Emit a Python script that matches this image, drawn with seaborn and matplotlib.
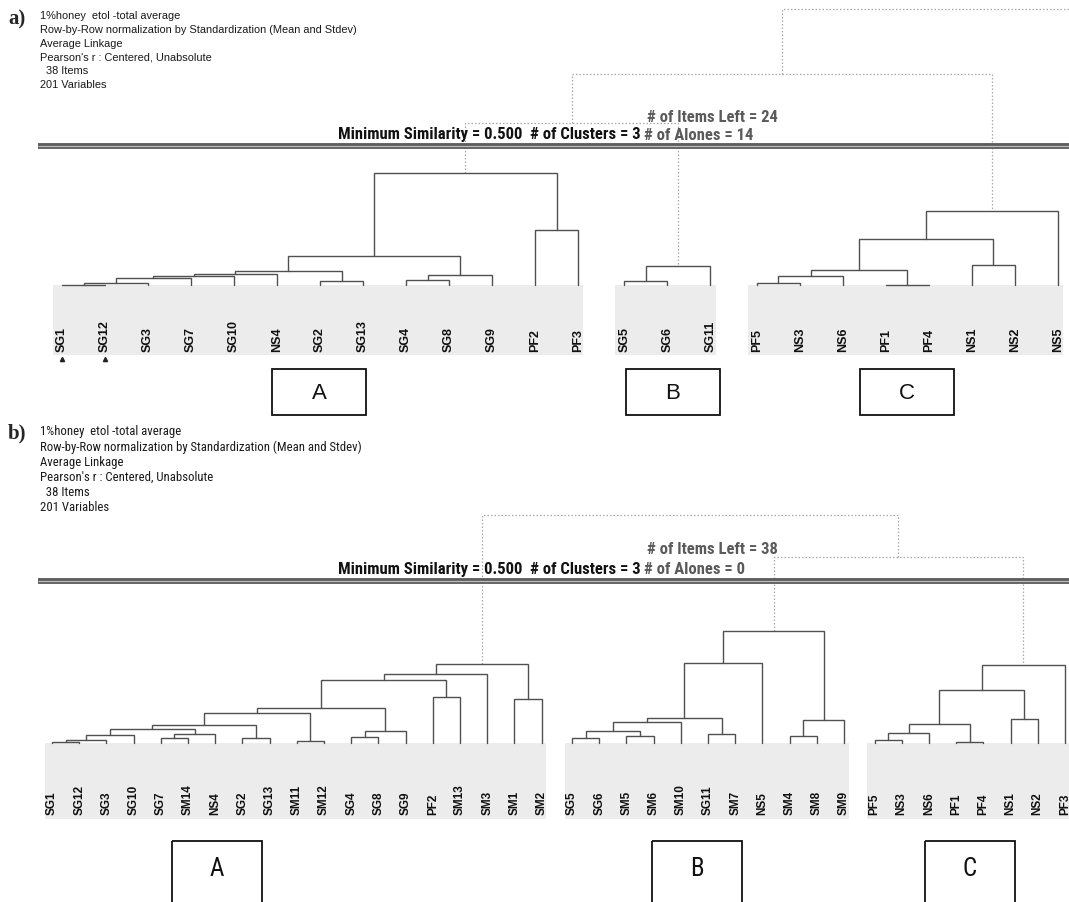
import numpy as np
import matplotlib
matplotlib.use("Agg")
import matplotlib.pyplot as plt
import matplotlib.transforms as mtransforms
from matplotlib.patches import Rectangle
from matplotlib.lines import Line2D
from matplotlib.text import Annotation
from matplotlib import font_manager
import seaborn as sns

sns.set_theme(style="white")
plt.rcParams['font.family'] = ['Liberation Sans', 'DejaVu Sans']

# ---------------------------------------------------------------- data
header_lines = [
    "1%honey  etol -total average",
    "Row-by-Row normalization by Standardization (Mean and Stdev)",
    "Average Linkage",
    "Pearson's r : Centered, Unabsolute",
    "  38 Items",
    "201 Variables",
]

# panel a) -- 24 items kept, three clusters
a_leaves_A = ["SG1", "SG12", "SG3", "SG7", "SG10", "NS4", "SG2", "SG13",
              "SG4", "SG8", "SG9", "PF2", "PF3"]
a_merges_A = [(0, 1, 0.3), (13, 2, 2.3), (14, 3, 6.7), (15, 4, 8.7),
              (16, 5, 11.3), (6, 7, 4.0), (17, 18, 13.7), (8, 9, 5.0),
              (20, 10, 10.3), (19, 21, 28.7), (11, 12, 55.3), (22, 23, 111.7)]
a_leaves_B = ["SG5", "SG6", "SG11"]
a_merges_B = [(0, 1, 3.7), (3, 2, 18.7)]
a_leaves_C = ["PF5", "NS3", "NS6", "PF1", "PF4", "NS1", "NS2", "NS5"]
a_merges_C = [(0, 1, 2.0), (8, 2, 8.7), (3, 4, 0.3), (9, 10, 15.3),
              (5, 6, 20.3), (11, 12, 46.0), (13, 7, 74.0)]
a_upper_merges = [(0, 1, 162.0), (3, 2, 211.0)]
a_outer_height = 276.0
a_marked = ["SG1", "SG12"]
a_items_left, a_alones = 24, 14

# panel b) -- all 38 items, three clusters
b_leaves_A = ["SG1", "SG12", "SG3", "SG10", "SG7", "SM14", "NS4", "SG2", "SG13",
              "SM11", "SM12", "SG4", "SG8", "SG9", "PF2", "SM13", "SM3", "SM1", "SM2"]
b_merges_A = [(0, 1, 1.0), (19, 2, 2.7), (20, 3, 8.3), (4, 5, 5.0), (22, 6, 9.0),
              (21, 23, 13.7), (7, 8, 5.3), (24, 25, 18.3), (9, 10, 1.7),
              (26, 27, 29.7), (11, 12, 6.0), (29, 13, 12.3), (28, 30, 35.0),
              (14, 15, 45.7), (31, 32, 63.0), (33, 16, 69.3), (17, 18, 43.7),
              (34, 35, 79.0)]
b_leaves_B = ["SG5", "SG6", "SM5", "SM6", "SM10", "SG11", "SM7", "NS5",
              "SM4", "SM8", "SM9"]
b_merges_B = [(0, 1, 5.0), (2, 3, 7.3), (11, 12, 12.3), (13, 4, 20.7),
              (5, 6, 9.0), (14, 15, 25.0), (16, 7, 80.0), (8, 9, 6.7),
              (18, 10, 23.3), (17, 19, 112.3)]
b_leaves_C = ["PF5", "NS3", "NS6", "PF1", "PF4", "NS1", "NS2", "PF3"]
b_merges_C = [(0, 1, 2.7), (8, 2, 10.0), (3, 4, 1.0), (9, 10, 19.0),
              (5, 6, 24.0), (11, 12, 52.7), (13, 7, 78.3)]
b_upper_merges = [(1, 2, 186.0), (0, 3, 228.0)]
b_items_left, b_alones = 38, 0

cluster_names = ["A", "B", "C"]
min_similarity, n_clusters = 0.500, 3

# ---------------------------------------------------------------- fonts
available = {f.name for f in font_manager.fontManager.ttflist}
NARROW = next((n for n in ["Liberation Sans Narrow", "DejaVu Sans Condensed",
                           "Roboto Condensed", "Open Sans Condensed"]
               if n in available), "Liberation Sans")
SERIF = "Liberation Serif" if "Liberation Serif" in available else "DejaVu Serif"

# ---------------------------------------------------------------- figure
W, H = 1069, 903
fig = plt.figure(figsize=(W / 100, H / 100), dpi=100)
PX = mtransforms.Affine2D().scale(1 / W, -1 / H).translate(0, 1) + fig.transFigure

LINE_C = "#505050"
DOT_C = "#a8a8a8"
BAND_C = "#ececec"
DOTS = (0, (1.2, 1.6))


def tree_segments(xs, hs, merges):
    """U-shaped links for a linkage list of (left, right, height)."""
    xs, hs = list(xs), list(hs)
    segs = []
    for l, r, h in merges:
        segs.append(([xs[l], xs[l], xs[r], xs[r]], [hs[l], h, h, hs[r]]))
        xs.append((xs[l] + xs[r]) / 2)
        hs.append(h)
    return segs, xs[-1], hs[-1]


def draw_panel(top_px, bottom_px, band_top_px, band_depth, x0, sp, gap,
               pads, clusters, upper, label_base, label_size,
               outer=None, marked=()):
    ax = fig.add_axes([0, 1 - bottom_px / H, 1, (bottom_px - top_px) / H])
    ax.set_xlim(-x0 / sp, (W - x0) / sp)
    ax.set_ylim(-(bottom_px - band_top_px), band_top_px - top_px)
    ax.axis("off")
    start = 0.0
    tops_x, tops_h = [], []
    for leaves, merges in clusters:
        pos = start + np.arange(len(leaves))
        ax.add_patch(Rectangle((pos[0] - pads[0], -band_depth),
                               pos[-1] - pos[0] + pads[0] + pads[1], band_depth,
                               facecolor=BAND_C, edgecolor="none", zorder=0))
        segs, tx, th = tree_segments(pos, np.zeros(len(pos)), merges)
        for sx, sy in segs:
            ax.plot(sx, sy, color=LINE_C, lw=1.0, solid_joinstyle="miter", zorder=2)
        for p, name in zip(pos, leaves):
            ax.text(p, -label_base, name, rotation=90, ha="center", va="bottom",
                    fontsize=label_size, fontweight="bold", color="#111111")
            if name in marked:
                ax.plot(p, -label_base - 8, marker="^", ms=3, color="#222222",
                        zorder=3)
        tops_x.append(tx)
        tops_h.append(th)
        start += len(leaves) + gap
    segs, ux, uh = tree_segments(tops_x, tops_h, upper)
    for sx, sy in segs:
        ax.plot(sx, sy, color=DOT_C, lw=0.9, ls=DOTS, zorder=1)
    if outer is not None:
        right = ax.get_xlim()[1] + 1
        ax.plot([ux, ux, right], [uh, outer, outer], color=DOT_C, lw=0.9,
                ls=DOTS, zorder=1)
    return ax


def header(tag, tag_y, y0, dy, size, family):
    fig.text(8, tag_y, tag, transform=PX, fontsize=15, fontweight="bold",
             family=SERIF, va="center", ha="left")
    for i, line in enumerate(header_lines):
        fig.text(40, y0 + dy * i, line, transform=PX, fontsize=size,
                 family=family, va="center", ha="left", color="#1a1a1a")


def summary(y_items, y_min, items_left, alones, size):
    fig.text(647, y_items, f"# of Items Left = {items_left}", transform=PX,
             fontsize=size, family=NARROW, fontweight="bold", color="#5a5a5a",
             va="center", ha="left")
    t = fig.text(338, y_min, f"Minimum Similarity = {min_similarity:.3f}  "
                 f"# of Clusters = {n_clusters} ", transform=PX,
                 fontsize=size, family=NARROW, fontweight="bold", color="#111111",
                 va="center", ha="left")
    fig.add_artist(Annotation(f"# of Alones = {alones}", xy=(1, 0.5),
                              xycoords=t, va="center", ha="left",
                              fontsize=size, family=NARROW, fontweight="bold",
                              color="#5a5a5a"))


def rule(y):
    fig.add_artist(Line2D([38, W + 5], [y, y], transform=PX, color="#5c5c5c",
                          lw=4.2, solid_capstyle="butt"))
    fig.add_artist(Line2D([38, W + 5], [y, y], transform=PX, color="#bdbdbd",
                          lw=0.9, solid_capstyle="butt"))


def boxes(xs, y, w, h, text_dy, size, family):
    for x, name in zip(xs, cluster_names):
        fig.add_artist(Rectangle((x, y), w, h, transform=PX, fill=False,
                                 edgecolor="#111111", lw=1.3))
        fig.text(x + w / 2, y + text_dy, name, transform=PX,
                 fontsize=size, family=family, ha="center", va="center",
                 color="#111111")


# ---------------------------------------------------------------- panel a
draw_panel(0, 390, 286, 70, 62, 43.0, 0.08, (0.21, 0.12),
           [(a_leaves_A, a_merges_A), (a_leaves_B, a_merges_B),
            (a_leaves_C, a_merges_C)],
           a_upper_merges, 66, 9, outer=a_outer_height, marked=a_marked)
header("a)", 19, 16, 13.8, 7.9, "Liberation Sans")
summary(117, 135, a_items_left, a_alones, 12)
rule(147)
boxes([272, 626, 860], 370, 94, 46, 24, 16, "Liberation Sans")

# ---------------------------------------------------------------- panel b
draw_panel(395, 903, 744, 76, 52, 27.2, 0.12, (0.26, 0.18),
           [(b_leaves_A, b_merges_A), (b_leaves_B, b_merges_B),
            (b_leaves_C, b_merges_C)],
           b_upper_merges, 71, 8.5)
header("b)", 433, 432, 15.2, 9.2, NARROW)
summary(550, 570, b_items_left, b_alones, 12)
rule(582)
boxes([172, 652, 925], 842, 90, 80, 27, 18, NARROW)

fig.savefig("out.png", dpi=100, facecolor="white")
